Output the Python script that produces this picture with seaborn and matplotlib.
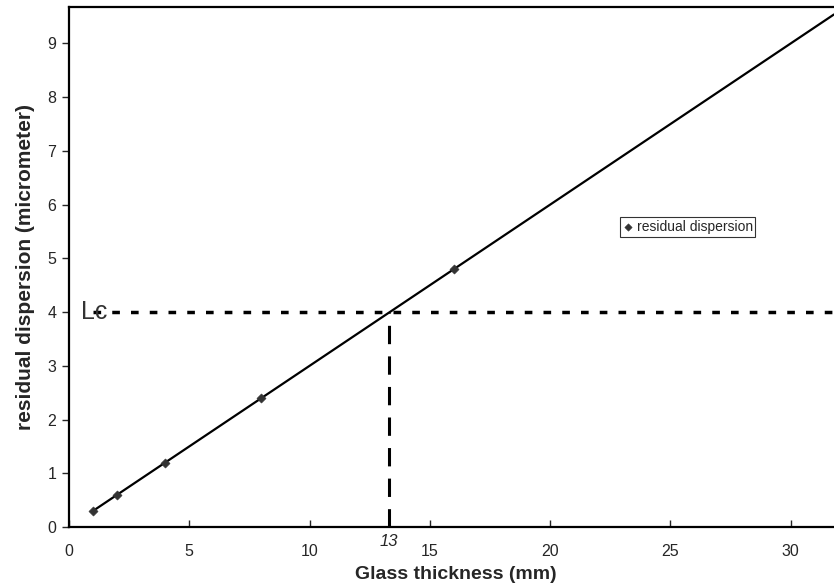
import seaborn as sns
import matplotlib.pyplot as plt
import pandas as pd

# measured points
thickness = [1, 2, 4, 8, 16]
dispersion = [0.3, 0.6, 1.2, 2.4, 4.8]

# fitted line end points
fit_x = [1, 31.8]
fit_y = [0.3, 9.54]

# critical level
lc_y = 4
lc_x = 13.3

df = pd.DataFrame({'thickness': thickness, 'dispersion': dispersion})
df_fit = pd.DataFrame({'x': fit_x, 'y': fit_y})

sns.set_style('white')
plt.rcParams['font.family'] = ['Liberation Sans', 'DejaVu Sans']

fig = plt.figure(figsize=(8.34, 5.85), dpi=100)
ax = fig.add_axes([0.0827, 0.0991, 0.9173 + 0.01, 0.889])

sns.lineplot(data=df_fit, x='x', y='y', color='black', linewidth=1.6, ax=ax)
sns.scatterplot(data=df, x='thickness', y='dispersion', marker='D', s=22,
                color='#333333', edgecolor='#333333', label='residual dispersion', ax=ax, zorder=3)

# dashed reference lines
ax.plot([1, 31.8], [lc_y, lc_y], color='black', linewidth=2.5, linestyle=(0, (2.2, 3.2)))
ax.plot([lc_x, lc_x], [0, lc_y], color='black', linewidth=2.2, linestyle=(0, (6, 4)))
ax.text(0.5, lc_y, 'Lc', fontsize=18, va='center', ha='left', color='#333333')
ax.text(lc_x, -0.27, '13', fontsize=12, style='italic', ha='center', va='center')

ax.set_xlim(0, 31.8 + 0.35)
ax.set_ylim(0, 9.68)
ax.set_xticks([0, 5, 10, 15, 20, 25, 30])
ax.set_yticks(range(10))
ax.tick_params(axis='x', direction='in', length=5, width=1, labelsize=11.5, pad=12)
ax.tick_params(axis='y', direction='out', length=5, width=1, labelsize=11.5, left=True, pad=4)
ax.tick_params(axis='x', bottom=True)

for s in ['left', 'bottom', 'top', 'right']:
    ax.spines[s].set_color('black')
    ax.spines[s].set_linewidth(1.6)
ax.spines['right'].set_visible(False)

ax.set_xlabel('Glass thickness (mm)', fontsize=14, fontweight='bold', labelpad=5)
ax.set_ylabel('residual dispersion (micrometer)', fontsize=15, fontweight='bold', labelpad=9)

leg = ax.legend(loc='center', bbox_to_anchor=(0.80, 0.577), fontsize=10, frameon=True,
                fancybox=False, handletextpad=0.2, borderpad=0.2, handlelength=0.8,
                markerscale=0.8, borderaxespad=0)
leg.get_frame().set_edgecolor('black')
leg.get_frame().set_linewidth(0.8)

plt.savefig('out.png', dpi=100)
